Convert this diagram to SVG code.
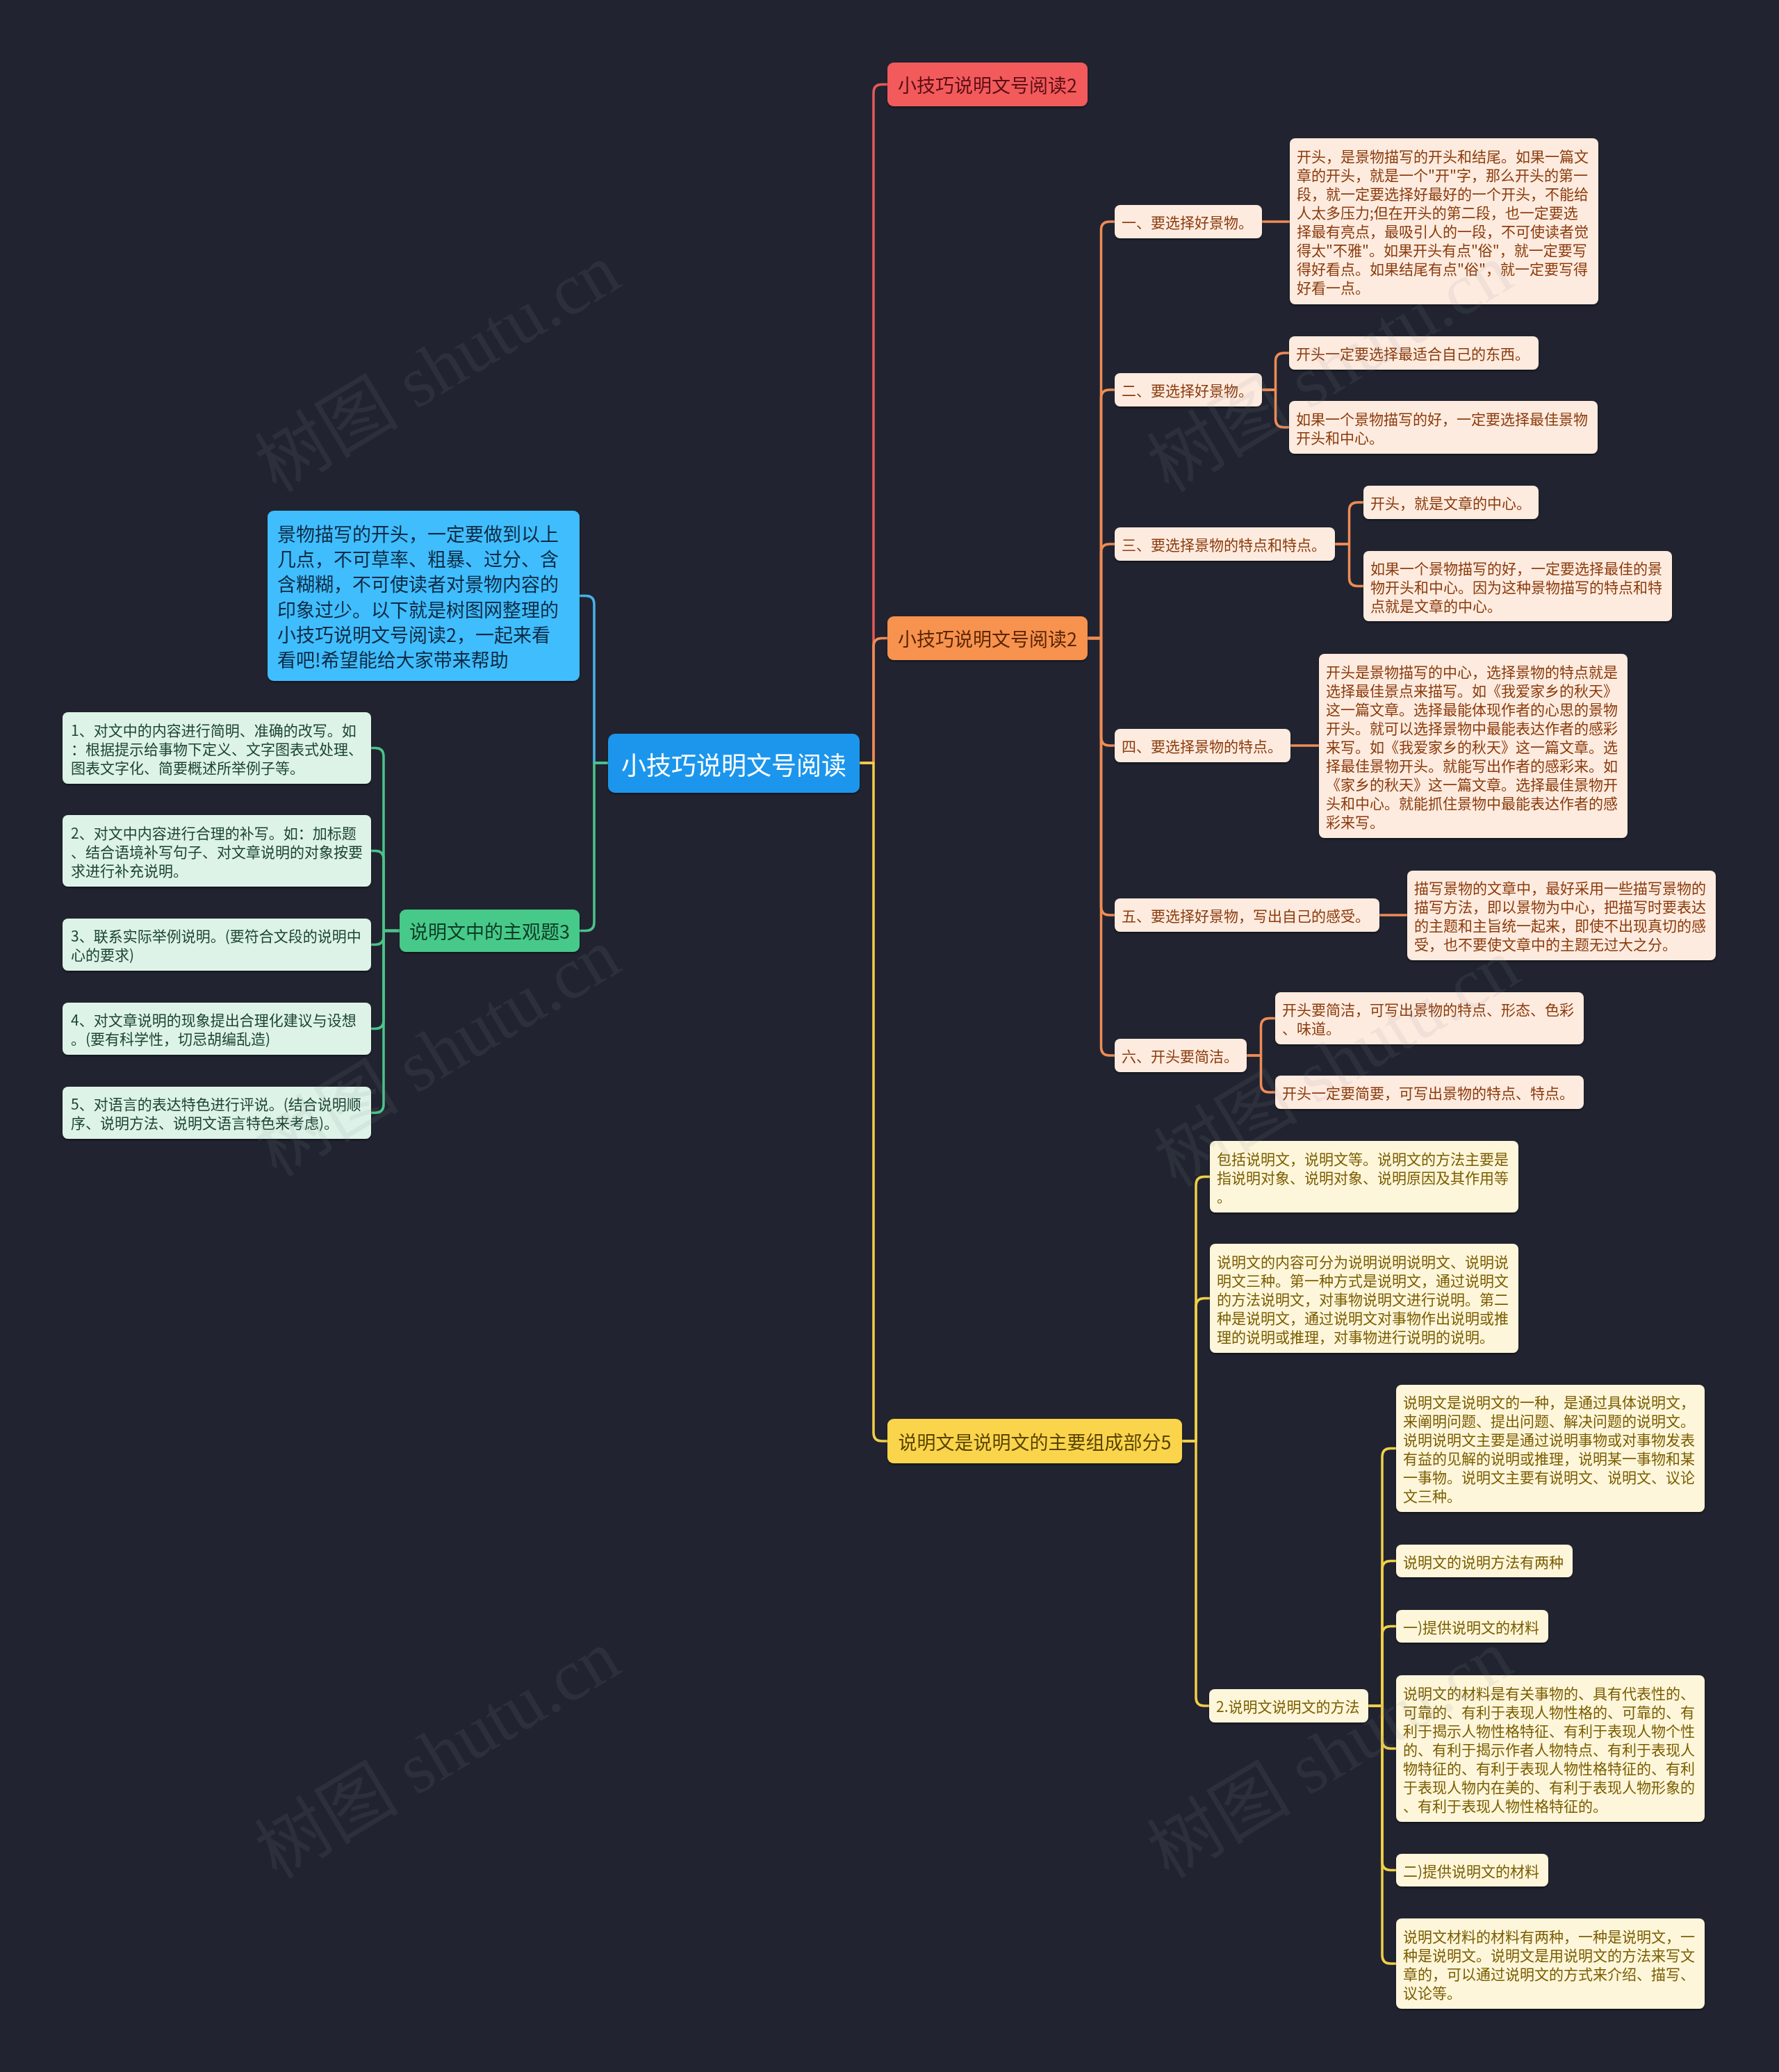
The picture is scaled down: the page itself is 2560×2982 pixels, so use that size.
<svg xmlns="http://www.w3.org/2000/svg" width="2560" height="2982" viewBox="0 0 2560 2982">
<defs>
<filter id="sh" x="-10%" y="-10%" width="120%" height="130%">
<feDropShadow dx="0" dy="2" stdDeviation="1.5" flood-color="#000" flood-opacity="0.45"/>
</filter>
<style>
text{font-family:"Noto Sans CJK SC","Noto Sans",sans-serif;dominant-baseline:central}
.c{fill:none;stroke-width:3.5;stroke-linecap:round;stroke-linejoin:round}
.cb{stroke:#47b2ea}.cg{stroke:#4cc38a}.cr{stroke:#e8585b}.co{stroke:#ef8c55}.cy{stroke:#f2cf48}
.n{filter:url(#sh)}
.root rect{fill:#1d96ec}.root text{fill:#fff;font-size:36px;text-anchor:middle}
.red rect{fill:#f25a5c}.red text{fill:#5c0f12;font-size:27px;text-anchor:middle}
.org rect{fill:#f7924f}.org text{fill:#5a2500;font-size:27px;text-anchor:middle}
.yel rect{fill:#fad54b}.yel text{fill:#5a4300;font-size:27px;text-anchor:middle}
.blu rect{fill:#3fbdfc}.blu text{fill:#0f2b44;font-size:27px}
.grn rect{fill:#47c98a}.grn text{fill:#0c3b24;font-size:27px;text-anchor:middle}
.ol rect{fill:#feebdf}.ol text{fill:#8a3a0a;font-size:21px}
.gl rect{fill:#ddf3e7}.gl text{fill:#1d4430;font-size:21px}
.yl rect{fill:#fef6da}.yl text{fill:#7a5d00;font-size:21px}
.wm{font-family:"Liberation Serif","Noto Sans CJK SC",serif;font-size:104px;fill:#8a8f99;opacity:0.11;text-anchor:middle;dominant-baseline:auto}
</style>
</defs>
<rect x="0" y="0" width="2560" height="2982" fill="#212430"/>

<g id="connectors">
<path class="c cb" d="M875,1098 H855 V869.5 Q855,857.5 843,857.5 H834"/>
<path class="c cg" d="M875,1098 H855 V1327.5 Q855,1339.5 843,1339.5 H834"/>
<path class="c cg" d="M575,1339.5 H552 V1088.5 Q552,1076.5 540,1076.5 H534"/>
<path class="c cg" d="M575,1339.5 H552 V1236.5 Q552,1224.5 540,1224.5 H534"/>
<path class="c cg" d="M575,1339.5 H552 V1347.5 Q552,1359.5 540,1359.5 H534"/>
<path class="c cg" d="M575,1339.5 H552 V1468.5 Q552,1480.5 540,1480.5 H534"/>
<path class="c cg" d="M575,1339.5 H552 V1589.5 Q552,1601.5 540,1601.5 H534"/>
<path class="c cr" d="M1237,1098 H1257 V133.5 Q1257,121.5 1269,121.5 H1277"/>
<path class="c co" d="M1237,1098 H1257 V930.5 Q1257,918.5 1269,918.5 H1277"/>
<path class="c cy" d="M1237,1098 H1257 V2062 Q1257,2074 1269,2074 H1277"/>
<path class="c co" d="M1565,918.5 H1584.5 V331 Q1584.5,319 1596.5,319 H1604"/>
<path class="c co" d="M1565,918.5 H1584.5 V573 Q1584.5,561 1596.5,561 H1604"/>
<path class="c co" d="M1565,918.5 H1584.5 V795 Q1584.5,783 1596.5,783 H1604"/>
<path class="c co" d="M1565,918.5 H1584.5 V1061 Q1584.5,1073 1596.5,1073 H1604"/>
<path class="c co" d="M1565,918.5 H1584.5 V1305 Q1584.5,1317 1596.5,1317 H1604"/>
<path class="c co" d="M1565,918.5 H1584.5 V1507 Q1584.5,1519 1596.5,1519 H1604"/>
<path class="c co" d="M1816,319 H1856"/>
<path class="c co" d="M1816,561 H1835.5 V520 Q1835.5,508 1847.5,508 H1855"/>
<path class="c co" d="M1816,561 H1835.5 V603 Q1835.5,615 1847.5,615 H1855"/>
<path class="c co" d="M1921,783 H1941.5 V735 Q1941.5,723 1953.5,723 H1962"/>
<path class="c co" d="M1921,783 H1941.5 V831.5 Q1941.5,843.5 1953.5,843.5 H1962"/>
<path class="c co" d="M1857,1073 H1898"/>
<path class="c co" d="M1985,1317 H2025"/>
<path class="c co" d="M1794,1519 H1814.5 V1477.5 Q1814.5,1465.5 1826.5,1465.5 H1835"/>
<path class="c co" d="M1794,1519 H1814.5 V1560 Q1814.5,1572 1826.5,1572 H1835"/>
<path class="c cy" d="M1701,2074 H1721 V1705.5 Q1721,1693.5 1733,1693.5 H1741"/>
<path class="c cy" d="M1701,2074 H1721 V1880.5 Q1721,1868.5 1733,1868.5 H1741"/>
<path class="c cy" d="M1701,2074 H1721 V2443 Q1721,2455 1733,2455 H1740"/>
<path class="c cy" d="M1969,2455 H1989 V2096.5 Q1989,2084.5 2001,2084.5 H2009"/>
<path class="c cy" d="M1969,2455 H1989 V2258.5 Q1989,2246.5 2001,2246.5 H2009"/>
<path class="c cy" d="M1969,2455 H1989 V2352.5 Q1989,2340.5 2001,2340.5 H2009"/>
<path class="c cy" d="M1969,2455 H1989 V2504.5 Q1989,2516.5 2001,2516.5 H2009"/>
<path class="c cy" d="M1969,2455 H1989 V2679.5 Q1989,2691.5 2001,2691.5 H2009"/>
<path class="c cy" d="M1969,2455 H1989 V2814 Q1989,2826 2001,2826 H2009"/>
</g>

<g id="root" class="n root"><rect x="875" y="1056" width="362" height="85" rx="10"/><text x="1056" y="1098.5">小技巧说明文号阅读</text></g>

<g id="b-red" class="n red"><rect x="1277" y="90" width="288" height="63" rx="9"/><text x="1421" y="121.5">小技巧说明文号阅读2</text></g>
<g id="b-orange" class="n org"><rect x="1277" y="887" width="288" height="63" rx="9"/><text x="1421" y="918.5">小技巧说明文号阅读2</text></g>
<g id="b-yellow" class="n yel"><rect x="1277" y="2042" width="424" height="64" rx="9"/><text x="1489" y="2074">说明文是说明文的主要组成部分5</text></g>
<g id="b-blue" class="n blu"><rect x="385" y="735" width="449" height="245" rx="9"/><text><tspan x="399" y="767">景物描写的开头，一定要做到以上</tspan><tspan x="399" y="803.2">几点，不可草率、粗暴、过分、含</tspan><tspan x="399" y="839.4">含糊糊，不可使读者对景物内容的</tspan><tspan x="399" y="875.6">印象过少。以下就是树图网整理的</tspan><tspan x="399" y="911.8">小技巧说明文号阅读2，一起来看</tspan><tspan x="399" y="948">看吧!希望能给大家带来帮助</tspan></text></g>
<g id="b-green" class="n grn"><rect x="575" y="1309" width="259" height="61" rx="9"/><text x="704.5" y="1339.5">说明文中的主观题3</text></g>

<g id="g1" class="n gl"><rect x="90" y="1025" width="444" height="103" rx="8"/><text><tspan x="102" y="1049.5">1、对文中的内容进行简明、准确的改写。如</tspan><tspan x="102" y="1076.5">：根据提示给事物下定义、文字图表式处理、</tspan><tspan x="102" y="1103.5">图表文字化、简要概述所举例子等。</tspan></text></g>
<g id="g2" class="n gl"><rect x="90" y="1173" width="444" height="103" rx="8"/><text><tspan x="102" y="1197.5">2、对文中内容进行合理的补写。如：加标题</tspan><tspan x="102" y="1224.5">、结合语境补写句子、对文章说明的对象按要</tspan><tspan x="102" y="1251.5">求进行补充说明。</tspan></text></g>
<g id="g3" class="n gl"><rect x="90" y="1322" width="444" height="75" rx="8"/><text><tspan x="102" y="1346">3、联系实际举例说明。(要符合文段的说明中</tspan><tspan x="102" y="1373">心的要求)</tspan></text></g>
<g id="g4" class="n gl"><rect x="90" y="1443" width="444" height="75" rx="8"/><text><tspan x="102" y="1467">4、对文章说明的现象提出合理化建议与设想</tspan><tspan x="102" y="1494">。(要有科学性，切忌胡编乱造)</tspan></text></g>
<g id="g5" class="n gl"><rect x="90" y="1564" width="444" height="75" rx="8"/><text><tspan x="102" y="1588">5、对语言的表达特色进行评说。(结合说明顺</tspan><tspan x="102" y="1615">序、说明方法、说明文语言特色来考虑)。</tspan></text></g>

<g id="o1" class="n ol"><rect x="1604" y="295" width="212" height="48" rx="8"/><text x="1614" y="319">一、要选择好景物。</text></g>
<g id="o2" class="n ol"><rect x="1604" y="537" width="212" height="48" rx="8"/><text x="1614" y="561">二、要选择好景物。</text></g>
<g id="o3" class="n ol"><rect x="1604" y="759" width="317" height="48" rx="8"/><text x="1614" y="783">三、要选择景物的特点和特点。</text></g>
<g id="o4" class="n ol"><rect x="1604" y="1049" width="253" height="48" rx="8"/><text x="1614" y="1073">四、要选择景物的特点。</text></g>
<g id="o5" class="n ol"><rect x="1604" y="1293" width="381" height="48" rx="8"/><text x="1614" y="1317">五、要选择好景物，写出自己的感受。</text></g>
<g id="o6" class="n ol"><rect x="1604" y="1495" width="190" height="48" rx="8"/><text x="1614" y="1519">六、开头要简洁。</text></g>

<g id="o1a" class="n ol"><rect x="1856" y="199" width="444" height="239" rx="8"/><text><tspan x="1866" y="224">开头，是景物描写的开头和结尾。如果一篇文</tspan><tspan x="1866" y="251">章的开头，就是一个"开"字，那么开头的第一</tspan><tspan x="1866" y="278">段，就一定要选择好最好的一个开头，不能给</tspan><tspan x="1866" y="305">人太多压力;但在开头的第二段，也一定要选</tspan><tspan x="1866" y="332">择最有亮点，最吸引人的一段，不可使读者觉</tspan><tspan x="1866" y="359">得太"不雅"。如果开头有点"俗"，就一定要写</tspan><tspan x="1866" y="386">得好看点。如果结尾有点"俗"，就一定要写得</tspan><tspan x="1866" y="413">好看一点。</tspan></text></g>
<g id="o2a" class="n ol"><rect x="1855" y="484" width="359" height="48" rx="8"/><text x="1865" y="508">开头一定要选择最适合自己的东西。</text></g>
<g id="o2b" class="n ol"><rect x="1855" y="577" width="444" height="76" rx="8"/><text><tspan x="1865" y="601.5">如果一个景物描写的好，一定要选择最佳景物</tspan><tspan x="1865" y="628.5">开头和中心。</tspan></text></g>
<g id="o3a" class="n ol"><rect x="1962" y="699" width="252" height="48" rx="8"/><text x="1972" y="723">开头，就是文章的中心。</text></g>
<g id="o3b" class="n ol"><rect x="1962" y="793" width="444" height="101" rx="8"/><text><tspan x="1972" y="816.5">如果一个景物描写的好，一定要选择最佳的景</tspan><tspan x="1972" y="843.5">物开头和中心。因为这种景物描写的特点和特</tspan><tspan x="1972" y="870.5">点就是文章的中心。</tspan></text></g>
<g id="o4a" class="n ol"><rect x="1898" y="941" width="444" height="265" rx="8"/><text><tspan x="1908" y="965.5">开头是景物描写的中心，选择景物的特点就是</tspan><tspan x="1908" y="992.5">选择最佳景点来描写。如《我爱家乡的秋天》</tspan><tspan x="1908" y="1019.5">这一篇文章。选择最能体现作者的心思的景物</tspan><tspan x="1908" y="1046.5">开头。就可以选择景物中最能表达作者的感彩</tspan><tspan x="1908" y="1073.5">来写。如《我爱家乡的秋天》这一篇文章。选</tspan><tspan x="1908" y="1100.5">择最佳景物开头。就能写出作者的感彩来。如</tspan><tspan x="1908" y="1127.5">《家乡的秋天》这一篇文章。选择最佳景物开</tspan><tspan x="1908" y="1154.5">头和中心。就能抓住景物中最能表达作者的感</tspan><tspan x="1908" y="1181.5">彩来写。</tspan></text></g>
<g id="o5a" class="n ol"><rect x="2025" y="1253" width="444" height="129" rx="8"/><text><tspan x="2035" y="1277">描写景物的文章中，最好采用一些描写景物的</tspan><tspan x="2035" y="1304">描写方法，即以景物为中心，把描写时要表达</tspan><tspan x="2035" y="1331">的主题和主旨统一起来，即使不出现真切的感</tspan><tspan x="2035" y="1358">受，也不要使文章中的主题无过大之分。</tspan></text></g>
<g id="o6a" class="n ol"><rect x="1835" y="1428" width="444" height="75" rx="8"/><text><tspan x="1845" y="1452">开头要简洁，可写出景物的特点、形态、色彩</tspan><tspan x="1845" y="1479">、味道。</tspan></text></g>
<g id="o6b" class="n ol"><rect x="1835" y="1548" width="444" height="48" rx="8"/><text x="1845" y="1572">开头一定要简要，可写出景物的特点、特点。</text></g>

<g id="y1" class="n yl"><rect x="1741" y="1642" width="444" height="103" rx="8"/><text><tspan x="1751" y="1666.5">包括说明文，说明文等。说明文的方法主要是</tspan><tspan x="1751" y="1693.5">指说明对象、说明对象、说明原因及其作用等</tspan><tspan x="1751" y="1720.5">。</tspan></text></g>
<g id="y2" class="n yl"><rect x="1741" y="1790" width="444" height="157" rx="8"/><text><tspan x="1751" y="1814.5">说明文的内容可分为说明说明说明文、说明说</tspan><tspan x="1751" y="1841.5">明文三种。第一种方式是说明文，通过说明文</tspan><tspan x="1751" y="1868.5">的方法说明文，对事物说明文进行说明。第二</tspan><tspan x="1751" y="1895.5">种是说明文，通过说明文对事物作出说明或推</tspan><tspan x="1751" y="1922.5">理的说明或推理，对事物进行说明的说明。</tspan></text></g>
<g id="y3" class="n yl"><rect x="1740" y="2431" width="229" height="48" rx="8"/><text x="1750" y="2455">2.说明文说明文的方法</text></g>

<g id="yl1" class="n yl"><rect x="2009" y="1993" width="444" height="183" rx="8"/><text><tspan x="2019" y="2017">说明文是说明文的一种，是通过具体说明文，</tspan><tspan x="2019" y="2044">来阐明问题、提出问题、解决问题的说明文。</tspan><tspan x="2019" y="2071">说明说明文主要是通过说明事物或对事物发表</tspan><tspan x="2019" y="2098">有益的见解的说明或推理，说明某一事物和某</tspan><tspan x="2019" y="2125">一事物。说明文主要有说明文、说明文、议论</tspan><tspan x="2019" y="2152">文三种。</tspan></text></g>
<g id="yl2" class="n yl"><rect x="2009" y="2223" width="254" height="47" rx="8"/><text x="2019" y="2246.5">说明文的说明方法有两种</text></g>
<g id="yl3" class="n yl"><rect x="2009" y="2317" width="219" height="47" rx="8"/><text x="2019" y="2340.5">一)提供说明文的材料</text></g>
<g id="yl4" class="n yl"><rect x="2009" y="2411" width="444" height="211" rx="8"/><text><tspan x="2019" y="2435.5">说明文的材料是有关事物的、具有代表性的、</tspan><tspan x="2019" y="2462.5">可靠的、有利于表现人物性格的、可靠的、有</tspan><tspan x="2019" y="2489.5">利于揭示人物性格特征、有利于表现人物个性</tspan><tspan x="2019" y="2516.5">的、有利于揭示作者人物特点、有利于表现人</tspan><tspan x="2019" y="2543.5">物特征的、有利于表现人物性格特征的、有利</tspan><tspan x="2019" y="2570.5">于表现人物内在美的、有利于表现人物形象的</tspan><tspan x="2019" y="2597.5">、有利于表现人物性格特征的。</tspan></text></g>
<g id="yl5" class="n yl"><rect x="2009" y="2668" width="219" height="47" rx="8"/><text x="2019" y="2691.5">二)提供说明文的材料</text></g>
<g id="yl6" class="n yl"><rect x="2009" y="2761" width="444" height="130" rx="8"/><text><tspan x="2019" y="2785.5">说明文材料的材料有两种，一种是说明文，一</tspan><tspan x="2019" y="2812.5">种是说明文。说明文是用说明文的方法来写文</tspan><tspan x="2019" y="2839.5">章的，可以通过说明文的方式来介绍、描写、</tspan><tspan x="2019" y="2866.5">议论等。</tspan></text></g>

<g id="watermarks">
<text class="wm" transform="translate(648,560) rotate(-31)">树图 shutu.cn</text>
<text class="wm" transform="translate(1932,560) rotate(-31)">树图 shutu.cn</text>
<text class="wm" transform="translate(648,1545) rotate(-31)">树图 shutu.cn</text>
<text class="wm" transform="translate(1942,1560) rotate(-31)">树图 shutu.cn</text>
<text class="wm" transform="translate(648,2555) rotate(-31)">树图 shutu.cn</text>
<text class="wm" transform="translate(1932,2555) rotate(-31)">树图 shutu.cn</text>
</g>
</svg>
